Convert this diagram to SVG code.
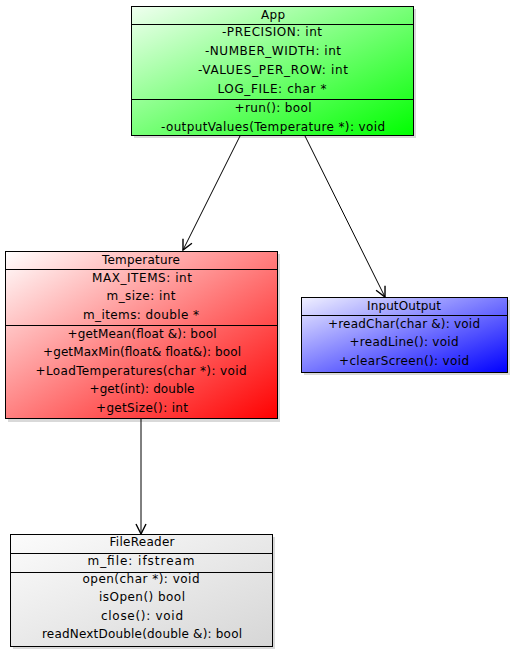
<svg xmlns="http://www.w3.org/2000/svg" width="511" height="653" viewBox="0 0 511 653">
<defs>
<linearGradient id="gApp" x1="0" y1="0" x2="1" y2="1"><stop offset="0" stop-color="#f0fff0"/><stop offset="1" stop-color="#00ff00"/></linearGradient>
<linearGradient id="gTemp" x1="0" y1="0" x2="1" y2="1"><stop offset="0" stop-color="#ffffff"/><stop offset="1" stop-color="#ff0000"/></linearGradient>
<linearGradient id="gIO" x1="0" y1="0" x2="1" y2="1"><stop offset="0" stop-color="#f0f0ff"/><stop offset="1" stop-color="#0000ff"/></linearGradient>
<linearGradient id="gFR" x1="0" y1="0" x2="1" y2="1"><stop offset="0" stop-color="#fcfcfc"/><stop offset="1" stop-color="#d6d6d6"/></linearGradient>
<marker id="arr" viewBox="0 0 12 12" refX="11" refY="6" markerWidth="12" markerHeight="12" markerUnits="userSpaceOnUse" orient="auto">
<path d="M1,1 L11,6 L1,11" fill="none" stroke="#000" stroke-width="1.4"/>
</marker>
</defs>
<style>
.box{stroke:#000;stroke-width:1}
.sh{fill:#000;opacity:0.15}
.div{stroke:#000;stroke-width:1}
text{font-family:"DejaVu Sans","Verdana",sans-serif;font-size:12px;fill:#000;text-anchor:middle}
.edge{stroke:#000;stroke-width:1;fill:none;marker-end:url(#arr)}
</style>
<rect width="511" height="653" fill="#fff"/>
<g id="App">
<rect class="sh" x="134" y="9" width="282" height="129"/>
<rect class="box" x="131.5" y="6.5" width="282" height="129" fill="url(#gApp)"/>
<line class="div" x1="131.5" y1="24.5" x2="413.5" y2="24.5"/>
<line class="div" x1="131.5" y1="99.5" x2="413.5" y2="99.5"/>
<text x="273" y="19" textLength="24" lengthAdjust="spacing">App</text>
<text x="272" y="36" textLength="100" lengthAdjust="spacing">-PRECISION: int</text>
<text x="273" y="55" textLength="136" lengthAdjust="spacing">-NUMBER_WIDTH: int</text>
<text x="273" y="74" textLength="150" lengthAdjust="spacing">-VALUES_PER_ROW: int</text>
<text x="272" y="93" textLength="109" lengthAdjust="spacing">LOG_FILE: char *</text>
<text x="273" y="112" textLength="77" lengthAdjust="spacing">+run(): bool</text>
<text x="273" y="131" textLength="224" lengthAdjust="spacing">-outputValues(Temperature *): void</text>
</g>
<g id="Temperature">
<rect class="sh" x="8" y="254" width="272" height="168"/>
<rect class="box" x="5.5" y="251.5" width="272" height="167" fill="url(#gTemp)"/>
<line class="div" x1="5.5" y1="269.5" x2="277.5" y2="269.5"/>
<line class="div" x1="5.5" y1="325.5" x2="277.5" y2="325.5"/>
<text x="141" y="263.5" textLength="78" lengthAdjust="spacing">Temperature</text>
<text x="142" y="281.5" textLength="100" lengthAdjust="spacing">MAX_ITEMS: int</text>
<text x="141" y="300" textLength="69" lengthAdjust="spacing">m_size: int</text>
<text x="141" y="318.5" textLength="116" lengthAdjust="spacing">m_items: double *</text>
<text x="142" y="337.5" textLength="149" lengthAdjust="spacing">+getMean(float &amp;): bool</text>
<text x="142" y="356" textLength="198" lengthAdjust="spacing">+getMaxMin(float&amp; float&amp;): bool</text>
<text x="141" y="374.5" textLength="211" lengthAdjust="spacing">+LoadTemperatures(char *): void</text>
<text x="142" y="393" textLength="105" lengthAdjust="spacing">+get(int): double</text>
<text x="142" y="411.5" textLength="92" lengthAdjust="spacing">+getSize(): int</text>
</g>
<g id="InputOutput">
<rect class="sh" x="304" y="300" width="206" height="75"/>
<rect class="box" x="301.5" y="297.5" width="206" height="75" fill="url(#gIO)"/>
<line class="div" x1="301.5" y1="315.5" x2="507.5" y2="315.5"/>
<text x="404" y="309.5" textLength="74" lengthAdjust="spacing">InputOutput</text>
<text x="404" y="327.5" textLength="152" lengthAdjust="spacing">+readChar(char &amp;): void</text>
<text x="404" y="346" textLength="109" lengthAdjust="spacing">+readLine(): void</text>
<text x="404" y="364.5" textLength="130" lengthAdjust="spacing">+clearScreen(): void</text>
</g>
<g id="FileReader">
<rect class="sh" x="13" y="537" width="262" height="112"/>
<rect class="box" x="10.5" y="534.5" width="262" height="112" fill="url(#gFR)"/>
<line class="div" x1="10.5" y1="553.5" x2="272.5" y2="553.5"/>
<line class="div" x1="10.5" y1="572.5" x2="272.5" y2="572.5"/>
<text x="142" y="546" textLength="65" lengthAdjust="spacing">FileReader</text>
<text x="141" y="564.5" textLength="107" lengthAdjust="spacing">m_file: ifstream</text>
<text x="141" y="582.5" textLength="117" lengthAdjust="spacing">open(char *): void</text>
<text x="142" y="601" textLength="86" lengthAdjust="spacing">isOpen() bool</text>
<text x="142" y="619.5" textLength="82" lengthAdjust="spacing">close(): void</text>
<text x="142" y="638" textLength="200" lengthAdjust="spacing">readNextDouble(double &amp;): bool</text>
</g>
<g id="connectors">
<line class="edge" x1="240" y1="136" x2="183" y2="250"/>
<line class="edge" x1="305" y1="136" x2="385" y2="297"/>
<line class="edge" x1="141" y1="419" x2="141" y2="534"/>
</g>
</svg>
